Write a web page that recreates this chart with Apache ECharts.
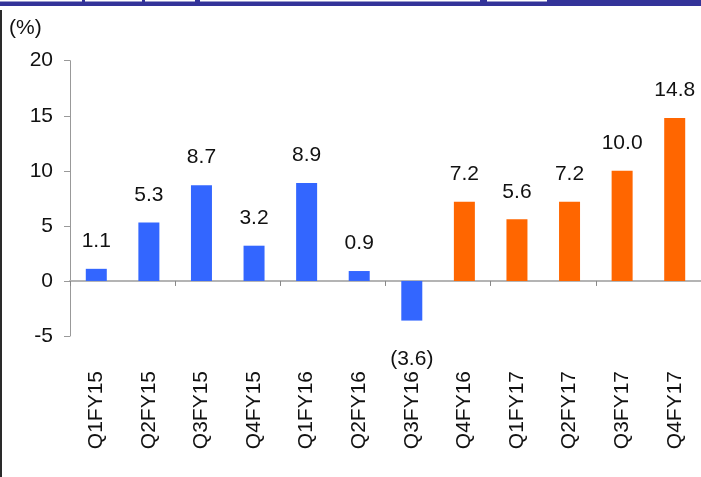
<!DOCTYPE html>
<html>
<head>
<meta charset="utf-8">
<script src="https://cdn.jsdelivr.net/npm/echarts@6/dist/echarts.min.js"></script>
<style>
  html, body { margin: 0; padding: 0; background: #fff; }
  #chartDiv { width: 701px; height: 477px; }
</style>
</head>
<body>
<div id="chartDiv"></div>
<script>
// 季度数据
var quarters = ['Q1FY15', 'Q2FY15', 'Q3FY15', 'Q4FY15', 'Q1FY16', 'Q2FY16',
                'Q3FY16', 'Q4FY16', 'Q1FY17', 'Q2FY17', 'Q3FY17', 'Q4FY17'];
var growthEarly = [1.1, 5.3, 8.7, 3.2, 8.9, 0.9, -3.6, '-', '-', '-', '-', '-'];
var growthLate = ['-', '-', '-', '-', '-', '-', '-', 7.2, 5.6, 7.2, 10.0, 14.8];
var yTicks = [-5, 0, 5, 10, 15, 20];

var font = "'Liberation Sans', Arial, sans-serif";

function withLabels(arr) {
    return arr.map(function (v) {
        if (v === '-') return v;
        return {
            value: v,
            label: v < 0 ? { position: 'bottom', distance: 28 } : { position: 'top', distance: 17 }
        };
    });
}

function fmt(p) {
    var v = p.value;
    return v < 0 ? '(' + Math.abs(v).toFixed(1) + ')' : v.toFixed(1);
}

var labelStyle = {
    show: true,
    formatter: fmt,
    fontFamily: font,
    fontSize: 21,
    lineHeight: 21,
    color: '#111'
};

var myChart = echarts.init(document.getElementById('chartDiv'));
var option = {
    animation: false,
    backgroundColor: '#fff',
    grid: { left: 70, right: -2, top: 60.7, bottom: 141 },
    graphic: [
        // 顶部色带
        { type: 'rect', shape: { x: 0, y: 0, width: 701, height: 6 }, style: { fill: '#333399' }, silent: true },
        { type: 'rect', shape: { x: 0, y: 0, width: 82, height: 1.5 }, style: { fill: '#fff' }, silent: true },
        { type: 'rect', shape: { x: 85, y: 0, width: 57, height: 1.5 }, style: { fill: '#fff' }, silent: true },
        { type: 'rect', shape: { x: 145, y: 0, width: 50, height: 1.5 }, style: { fill: '#fff' }, silent: true },
        { type: 'rect', shape: { x: 200, y: 0, width: 280, height: 1.5 }, style: { fill: '#fff' }, silent: true },
        { type: 'rect', shape: { x: 487, y: 0, width: 60, height: 1.5 }, style: { fill: '#fff' }, silent: true },
        // 左侧边框
        { type: 'rect', shape: { x: 0, y: 10, width: 2, height: 467 }, style: { fill: '#2a2a2a' }, silent: true },
        {
            type: 'text', left: 9, top: 18,
            style: { text: '(%)', font: '21px ' + font, fill: '#111' }
        }
    ],
    xAxis: [{
        type: 'category',
        data: quarters,
        position: 'bottom',
        axisLine: { onZero: true, lineStyle: { color: '#b4b4b4', width: 2 } },
        axisTick: { show: true, length: 5, lineStyle: { color: '#888' } },
        axisLabel: { show: false },
        splitLine: { show: false }
    }, {
        type: 'category',
        data: quarters,
        position: 'bottom',
        axisLine: { show: false, onZero: false },
        axisTick: { show: false },
        axisLabel: {
            rotate: 90,
            margin: 35,
            fontFamily: font,
            fontSize: 21,
            color: '#111'
        }
    }],
    yAxis: {
        type: 'value',
        min: yTicks[0],
        max: yTicks[yTicks.length - 1],
        interval: 5,
        axisLine: { show: true, lineStyle: { color: '#999' } },
        axisTick: { show: true, length: 6, inside: false, lineStyle: { color: '#999' } },
        axisLabel: { margin: 17, fontFamily: font, fontSize: 21, color: '#111' },
        splitLine: { show: false }
    },
    series: [{
        type: 'bar',
        data: withLabels(growthEarly),
        barWidth: 21,
        barGap: '-100%',
        itemStyle: { color: '#3366ff' },
        label: labelStyle
    }, {
        type: 'bar',
        data: withLabels(growthLate),
        barWidth: 21,
        barGap: '-100%',
        itemStyle: { color: '#ff6600' },
        label: labelStyle
    }]
};

myChart.setOption(option);
window.onresize = myChart.resize;
</script>
</body>
</html>
